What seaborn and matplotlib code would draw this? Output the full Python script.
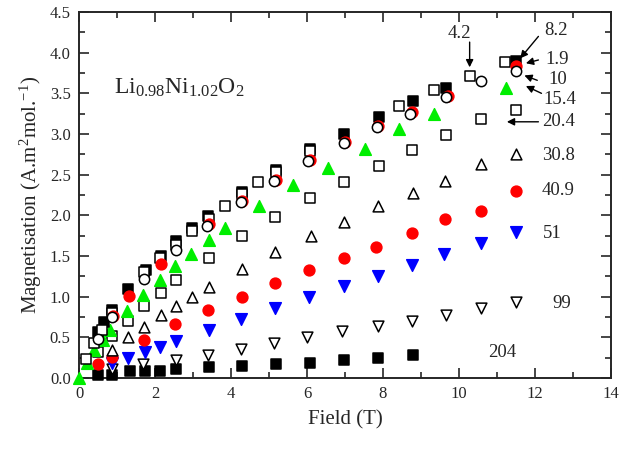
import matplotlib
matplotlib.use("Agg")
import matplotlib.pyplot as plt
from matplotlib.ticker import MultipleLocator, FormatStrFormatter
import seaborn as sns
import pandas as pd

# ---- data (field in T, magnetisation in A.m^2/mol) ----
f_1_9 = [0.90, 1.31, 2.15, 3.42, 4.30, 5.19, 6.08, 7.00, 7.87, 8.76, 9.70, 11.50]
m_1_9 = [0.76, 1.01, 1.40, 1.89, 2.18, 2.44, 2.68, 2.90, 3.10, 3.27, 3.47, 3.83]

f_8_2 = [0.50, 0.66, 0.88, 1.29, 1.75, 2.15, 2.56, 2.97, 3.39, 4.28, 5.18, 6.07, 6.97, 7.89, 8.78, 9.66, 11.49]
m_8_2 = [0.56, 0.69, 0.84, 1.10, 1.33, 1.50, 1.68, 1.84, 1.99, 2.29, 2.56, 2.81, 3.00, 3.21, 3.40, 3.56, 3.90]

f_4_2 = [0.18, 0.40, 0.61, 0.86, 1.72, 2.13, 2.54, 2.97, 3.42, 3.83, 4.29, 4.72, 5.18, 6.07, 8.43, 9.35, 10.30, 11.20]
m_4_2 = [0.23, 0.43, 0.59, 0.80, 1.30, 1.47, 1.64, 1.81, 1.96, 2.12, 2.26, 2.41, 2.53, 2.79, 3.35, 3.54, 3.71, 3.88]

f_10 = [0.49, 0.87, 1.71, 2.54, 3.37, 4.25, 5.14, 6.03, 6.97, 7.83, 8.72, 9.66, 10.58, 11.49]
m_10 = [0.48, 0.75, 1.22, 1.57, 1.87, 2.16, 2.42, 2.67, 2.89, 3.09, 3.25, 3.46, 3.65, 3.78]

f_15_4 = [0.00, 0.20, 0.40, 0.64, 0.81, 1.25, 1.69, 2.12, 2.52, 2.95, 3.42, 3.84, 4.74, 5.63, 6.56, 7.52, 8.43, 9.35, 11.23]
m_15_4 = [0.00, 0.18, 0.34, 0.47, 0.59, 0.82, 1.02, 1.20, 1.38, 1.52, 1.70, 1.84, 2.12, 2.37, 2.58, 2.82, 3.06, 3.24, 3.57]

f_20_4 = [0.51, 0.87, 1.29, 1.71, 2.15, 2.56, 3.42, 4.29, 5.17, 6.07, 6.97, 7.89, 8.77, 9.66, 10.58, 11.50]
m_20_4 = [0.32, 0.52, 0.70, 0.88, 1.04, 1.21, 1.47, 1.75, 1.98, 2.21, 2.41, 2.61, 2.80, 2.99, 3.19, 3.30]

f_30_8 = [0.88, 1.29, 1.71, 2.15, 2.54, 2.97, 3.42, 4.29, 5.17, 6.10, 6.97, 7.87, 8.78, 9.64, 10.58, 11.49]
m_30_8 = [0.35, 0.50, 0.63, 0.77, 0.88, 1.00, 1.12, 1.34, 1.55, 1.75, 1.92, 2.12, 2.27, 2.42, 2.63, 2.76]

f_40_9 = [0.49, 0.88, 1.71, 2.52, 3.39, 4.30, 5.17, 6.06, 6.97, 7.82, 8.77, 9.64, 10.58, 11.49]
m_40_9 = [0.17, 0.26, 0.47, 0.67, 0.83, 1.00, 1.17, 1.33, 1.48, 1.61, 1.78, 1.95, 2.05, 2.30]

f_51 = [0.87, 1.29, 1.73, 2.14, 2.55, 3.42, 4.27, 5.17, 6.06, 6.97, 7.87, 8.77, 9.60, 10.58, 11.49]
m_51 = [0.18, 0.245, 0.315, 0.385, 0.46, 0.59, 0.72, 0.865, 1.00, 1.13, 1.255, 1.39, 1.53, 1.66, 1.79]

f_99 = [0.88, 1.69, 2.54, 3.39, 4.27, 5.12, 6.01, 6.93, 7.87, 8.77, 9.66, 10.58, 11.49]
m_99 = [0.11, 0.17, 0.22, 0.28, 0.36, 0.43, 0.50, 0.58, 0.64, 0.70, 0.77, 0.86, 0.93]

f_204 = [0.51, 0.88, 1.34, 1.73, 2.12, 2.54, 3.41, 4.30, 5.18, 6.08, 6.97, 7.87, 8.79]
m_204 = [0.04, 0.04, 0.08, 0.08, 0.09, 0.11, 0.13, 0.15, 0.17, 0.19, 0.22, 0.25, 0.28]

# temperature labels (K) and their positions
labels = ["4.2", "8.2", "1.9", "10", "15.4", "20.4", "30.8", "40.9", "51", "99", "204"]
label_x = [10.02, 12.56, 12.58, 12.60, 12.65, 12.61, 12.61, 12.61, 12.45, 12.70, 11.13]
label_y = [4.24, 4.27, 3.92, 3.67, 3.42, 3.15, 2.74, 2.30, 1.78, 0.92, 0.31]

sns.set_theme(style="ticks")
plt.rcParams["font.family"] = ["Liberation Serif", "DejaVu Serif"]
plt.rcParams["mathtext.fontset"] = "custom"
plt.rcParams["mathtext.rm"] = "Liberation Serif"
plt.rcParams["mathtext.it"] = "Liberation Serif:italic"
plt.rcParams["mathtext.bf"] = "Liberation Serif:bold"

fig = plt.figure(figsize=(6.2, 4.51), dpi=100)
ax = fig.add_axes([79 / 620, 1 - 378 / 451, (611 - 79) / 620, (378 - 12) / 451])

def series(f, m):
    return pd.DataFrame({"Field": f, "M": m})

# (data, marker, face, edge, size)
styles = [
    (series(f_204, m_204), "s", "black", "black", 45),
    (series(f_99, m_99), "v", "white", "black", 60),
    (series(f_51, m_51), "v", "blue", "blue", 70),
    (series(f_40_9, m_40_9), "o", "red", "red", 60),
    (series(f_30_8, m_30_8), "^", "white", "black", 60),
    (series(f_20_4, m_20_4), "s", "white", "black", 45),
    (series(f_15_4, m_15_4), "^", "#00ee00", "#00ee00", 70),
    (series(f_8_2, m_8_2), "s", "black", "black", 45),
    (series(f_4_2, m_4_2), "s", "white", "black", 45),
    (series(f_1_9, m_1_9), "o", "red", "red", 60),
    (series(f_10, m_10), "o", "white", "black", 55),
]
for df, mk, fc, ec, s in styles:
    sns.scatterplot(data=df, x="Field", y="M", marker=mk, color=fc, edgecolor=ec,
                    linewidth=1.1, s=s, ax=ax, clip_on=False, zorder=3)

ax.set_xlim(0, 14)
ax.set_ylim(0, 4.5)
ax.xaxis.set_major_locator(MultipleLocator(2))
ax.xaxis.set_minor_locator(MultipleLocator(1))
ax.yaxis.set_major_locator(MultipleLocator(0.5))
ax.yaxis.set_minor_locator(MultipleLocator(0.25))
ax.yaxis.set_major_formatter(FormatStrFormatter("%.1f"))
ax.tick_params(which="both", direction="in", top=True, right=True, width=1.2, labelsize=12)
ax.tick_params(which="major", length=7, pad=6)
ax.tick_params(which="minor", length=4)
for sp in ax.spines.values():
    sp.set_linewidth(1.4)
    sp.set_visible(True)

ax.set_xlabel("Field (T)", fontsize=15, labelpad=6)
ax.set_ylabel(r"Magnetisation (A.m$^2$mol.$^{-1}$)", fontsize=15, labelpad=4)

ax.text(2.65, 3.57, r"Li$_{0.98}$Ni$_{1.02}$O$_2$", fontsize=17, ha="center", va="center")

for t, x, y in zip(labels, label_x, label_y):
    ax.text(x, y, t, fontsize=13.5, ha="center", va="center")

arrow_kw = dict(arrowstyle="-|>", color="black", lw=1.0, mutation_scale=11, shrinkA=0, shrinkB=0)
ax.annotate("", xy=(10.28, 3.82), xytext=(10.28, 4.13), arrowprops=arrow_kw)
ax.annotate("", xy=(11.61, 3.93), xytext=(12.09, 4.20), arrowprops=arrow_kw)
ax.annotate("", xy=(11.76, 3.87), xytext=(12.09, 3.91), arrowprops=arrow_kw)
ax.annotate("", xy=(11.72, 3.72), xytext=(12.06, 3.66), arrowprops=arrow_kw)
ax.annotate("", xy=(11.76, 3.59), xytext=(12.17, 3.50), arrowprops=arrow_kw)
ax.annotate("", xy=(11.26, 3.15), xytext=(12.09, 3.15), arrowprops=arrow_kw)

fig.savefig("out.png", dpi=100)
